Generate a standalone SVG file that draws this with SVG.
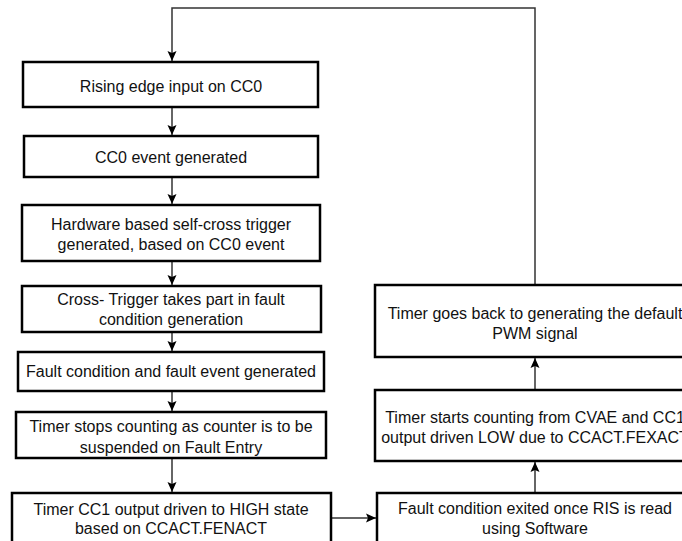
<svg xmlns="http://www.w3.org/2000/svg" width="682" height="541" viewBox="0 0 682 541">
<defs>
<style>
.box{fill:#fff;stroke:#000;stroke-width:2.5}
.t{font-family:"Liberation Sans",Arial,sans-serif;font-size:16px;fill:#111;text-anchor:middle}
.c{fill:none;stroke:#333;stroke-width:1.5}
</style>
<marker id="ah" markerUnits="userSpaceOnUse" markerWidth="10" markerHeight="10" viewBox="0 0 10 10" refX="10" refY="5" orient="auto">
<path d="M0,0.5 L10,5 L0,9.5 L2,5 Z" fill="#000"/>
</marker>
</defs>
<rect width="682" height="541" fill="#fff"/>
<g id="connectors">
<path class="c" d="M172,107 V135" marker-end="url(#ah)"/>
<path class="c" d="M172,177 V204" marker-end="url(#ah)"/>
<path class="c" d="M172,261 V285" marker-end="url(#ah)"/>
<path class="c" d="M172,332 V351" marker-end="url(#ah)"/>
<path class="c" d="M172,391 V411" marker-end="url(#ah)"/>
<path class="c" d="M172,458 V492" marker-end="url(#ah)"/>
<path class="c" d="M331,518 H376" marker-end="url(#ah)"/>
<path class="c" d="M535,493 V462" marker-end="url(#ah)"/>
<path class="c" d="M535,390 V358" marker-end="url(#ah)"/>
<path class="c" d="M535,285 V8 H172 V61" marker-end="url(#ah)"/>
</g>
<g id="n1"><rect class="box" x="23" y="62" width="295" height="45"/><text class="t" x="171" y="91.5">Rising edge input on CC0</text></g>
<g id="n2"><rect class="box" x="24" y="136" width="294" height="41"/><text class="t" x="171" y="162.5">CC0 event generated</text></g>
<g id="n3"><rect class="box" x="22" y="205" width="298" height="56"/><text class="t" x="171" y="229.5">Hardware based self-cross trigger</text><text class="t" x="171" y="249.5">generated, based on CC0 event</text></g>
<g id="n4"><rect class="box" x="22" y="286" width="299" height="46"/><text class="t" x="171" y="304.5">Cross- Trigger takes part in fault</text><text class="t" x="171" y="324.5">condition generation</text></g>
<g id="n5"><rect class="box" x="18" y="352" width="306" height="39"/><text class="t" x="171" y="376.5">Fault condition and fault event generated</text></g>
<g id="n6"><rect class="box" x="16" y="412" width="310" height="46"/><text class="t" x="171" y="431.5">Timer stops counting as counter is to be</text><text class="t" x="171" y="452.5">suspended on Fault Entry</text></g>
<g id="n7"><rect class="box" x="12" y="493" width="319" height="60"/><text class="t" x="171" y="514.5">Timer CC1 output driven to HIGH state</text><text class="t" x="171" y="533.5">based on CCACT.FENACT</text></g>
<g id="n8"><rect class="box" x="377" y="493" width="320" height="60"/><text class="t" x="535" y="513.5">Fault condition exited once RIS is read</text><text class="t" x="535" y="533.5">using Software</text></g>
<g id="n9"><rect class="box" x="375" y="390" width="320" height="71"/><text class="t" x="535" y="422.5">Timer starts counting from CVAE and CC1</text><text class="t" x="535" y="442.5">output driven LOW due to CCACT.FEXACT</text></g>
<g id="n10"><rect class="box" x="375" y="285" width="320" height="72"/><text class="t" x="535" y="318.5">Timer goes back to generating the default</text><text class="t" x="535" y="338.5">PWM signal</text></g>
</svg>
